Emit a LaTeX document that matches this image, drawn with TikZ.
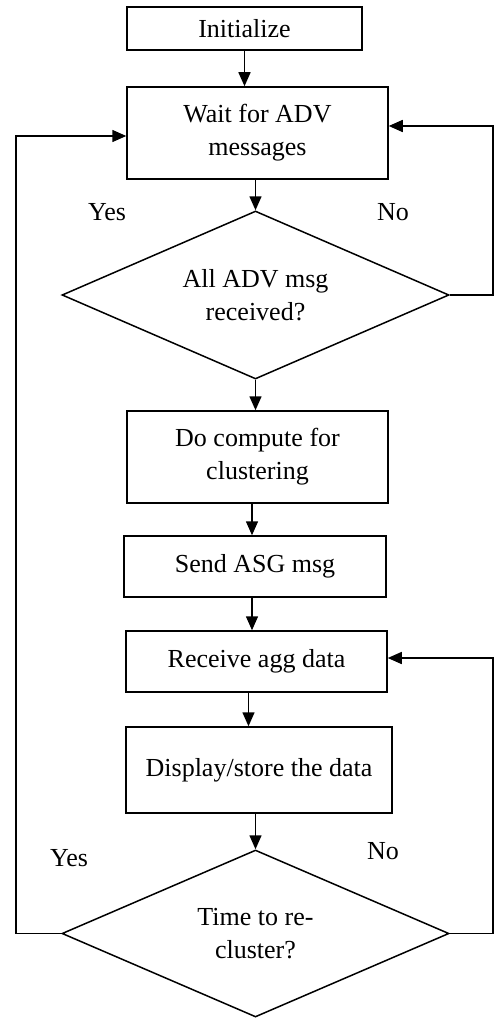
\documentclass[tikz,border=0pt]{standalone}
\usepackage{fontspec}
\setmainfont{Liberation Serif}
\usetikzlibrary{shapes.geometric,arrows.meta,calc}
\begin{document}
\begin{tikzpicture}[x=1pt,y=-1pt,
  every node/.style={font=\fontsize{26}{33}\selectfont},
  procbox/.style={draw,line width=1.5pt,rectangle,inner sep=0pt,align=center},
  decision/.style={draw,line width=1.5pt,diamond,inner sep=0pt,align=center,aspect=2.3,minimum width=387pt,minimum height=168pt},
  conn/.style={line width=1.5pt,-{Triangle[length=14pt,width=12pt]}},
  lbl/.style={inner sep=0pt}]
\fill[white] (0,0) rectangle (494,1019);
\useasboundingbox (0,0) rectangle (494,1019);
\node[procbox,minimum width=235pt,minimum height=43pt] (init) at (244.5,28.5) {Initialize};
\node[procbox,minimum width=261pt,minimum height=92pt] (wait) at (257.5,133) {Wait for ADV\\messages};
\node[decision] (d1) at (255.5,295) {All ADV msg\\received?};
\node[procbox,minimum width=261pt,minimum height=92pt] (comp) at (257.5,457) {Do compute for\\clustering};
\node[procbox,minimum width=262pt,minimum height=61pt] (send) at (255,566.5) {Send ASG msg};
\node[procbox,minimum width=261pt,minimum height=61pt] (recv) at (256.5,661.5) {Receive agg data};
\node[procbox,minimum width=266pt,minimum height=86pt] (disp) at (259,770) {Display/store the data};
\node[decision,minimum height=167pt] (d2) at (255.5,933.5) {Time to re-\\cluster?};
\node[lbl] (yes1) at (107,212) {Yes};
\node[lbl] (no1) at (393,212) {No};
\node[lbl] (yes2) at (69,858) {Yes};
\node[lbl] (no2) at (383,851) {No};
\coordinate (r1) at (493,126);
\coordinate (l1) at (16,136);
\coordinate (r2) at (493,658);
\draw[conn] (init.south) -- (init.south |- wait.north);
\draw[conn] (d1.north |- wait.south) -- (d1.north);
\draw[conn] (d1.south) -- (d1.south |- comp.north);
\draw[conn] ([xshift=-3pt]send.north |- comp.south) -- ([xshift=-3pt]send.north);
\draw[conn] ([xshift=-3pt]send.south) -- ([xshift=-3pt]send.south |- recv.north);
\draw[conn] ([xshift=-8pt]recv.south) -- ([xshift=-8pt]recv.south |- disp.north);
\draw[conn] (d2.north |- disp.south) -- (d2.north);
\draw[conn] (d1.east) -- (d1.east -| r1) -- (r1) -- (r1 -| wait.east);
\draw[conn] (d2.west) -- (d2.west -| l1) -- (l1) -- (l1 -| wait.west);
\draw[conn] (d2.east) -- (d2.east -| r2) -- (r2) -- (r2 -| recv.east);
\end{tikzpicture}
\end{document}
